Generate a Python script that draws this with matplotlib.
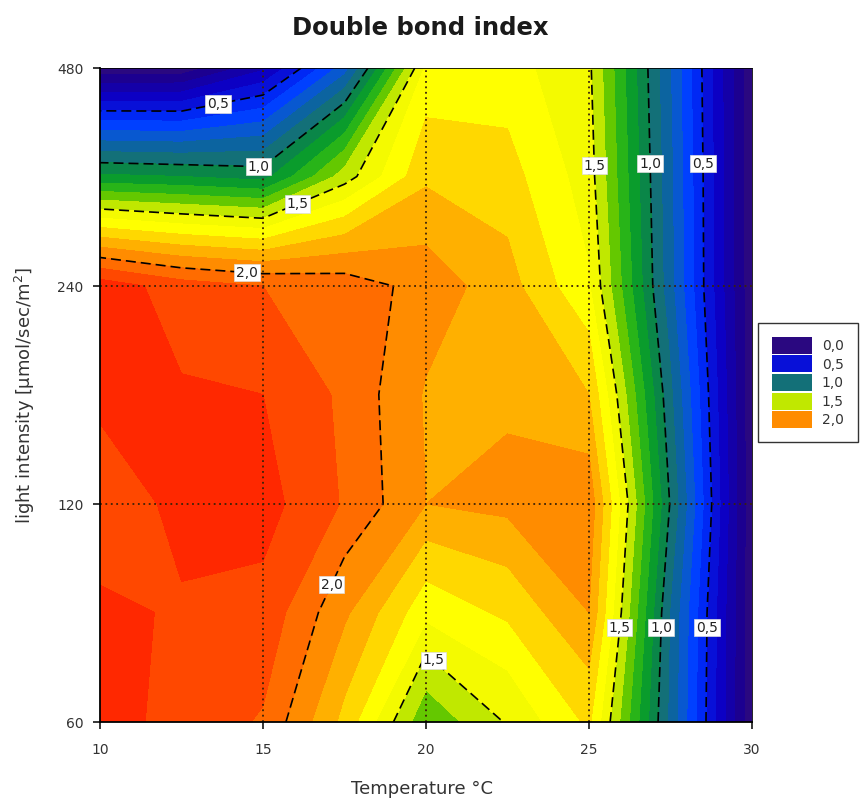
import matplotlib
matplotlib.use("Agg")
import matplotlib.pyplot as plt
import numpy as np
from matplotlib.colors import BoundaryNorm, ListedColormap
from matplotlib.patches import Patch
from matplotlib.ticker import NullLocator

# growth temperature (°C) and light intensity (µmol/sec/m2) of the grid
temperature = [10, 12.5, 15, 17.5, 20, 22.5, 25, 27.5, 30]
light = [60, 85, 120, 170, 240, 340, 480]

# double bond index at each light level, left to right along temperature
dbi_60 = [2.25, 2.16, 2.09, 1.77, 1.32, 1.51, 1.72, 0.87, 0.02]
dbi_85 = [2.22, 2.19, 2.17, 1.92, 1.63, 1.72, 1.90, 0.89, 0.02]
dbi_120 = [2.13, 2.23, 2.24, 2.09, 1.90, 1.93, 1.97, 0.99, 0.02]
dbi_170 = [2.23, 2.21, 2.20, 2.08, 1.89, 1.88, 1.80, 0.92, 0.02]
dbi_240 = [2.26, 2.15, 2.10, 2.06, 1.96, 1.84, 1.61, 0.83, 0.02]
dbi_340 = [1.12, 1.10, 1.06, 1.45, 1.78, 1.74, 1.55, 0.82, 0.02]
dbi_480 = [0.02, 0.03, 0.28, 0.75, 1.62, 1.64, 1.52, 0.80, 0.02]

line_levels = [0.5, 1.0, 1.5, 2.0]
legend_levels = [0.0, 0.5, 1.0, 1.5, 2.0]
x_ticks = [10, 15, 20, 25, 30]
y_ticks = [60, 120, 240, 480]

# where the inline contour labels sit (temperature, light)
label_spots = [
    (13.7, 410), (14.85, 344), (16.1, 308), (14.5, 248),
    (25.25, 352), (26.85, 354), (28.55, 354),
    (16.85, 94), (20.35, 74),
    (25.95, 81), (27.25, 81), (28.75, 81),
]

levels = np.round(np.arange(0, 2.35, 0.1), 2)
band_colors = [
    "#2a0880", "#1c0090", "#1400a8", "#0c00c4", "#0810d8", "#0028f4",
    "#0040ff", "#0858d0", "#0c64a0", "#137078", "#0a8648", "#0a9c2c",
    "#28b418", "#64c800", "#c0e800", "#f4fa00", "#ffff00", "#ffd800",
    "#ffb000", "#ff8c00", "#ff6c00", "#ff4800", "#ff2800",
]
cmap = ListedColormap(band_colors)
norm = BoundaryNorm(levels, cmap.N)


def comma(v):
    return f"{v:.1f}".replace(".", ",")


Z = np.array([dbi_60, dbi_85, dbi_120, dbi_170, dbi_240, dbi_340, dbi_480])

fig = plt.figure(figsize=(8.65, 8.07), dpi=100)
ax = fig.add_axes([0.1156, 0.1053, 0.7538, 0.8104])
ax.set_yscale("log", base=2)
ax.set_xlim(10, 30)
ax.set_ylim(60, 480)

ax.contourf(temperature, light, Z, levels=levels, cmap=cmap, norm=norm)
cs = ax.contour(temperature, light, Z, levels=line_levels, colors="black",
                linewidths=1.2, linestyles=[(0, (6, 3))])
labels = ax.clabel(cs, levels=line_levels, manual=label_spots, inline=False,
                   fmt=comma, fontsize=10, colors="#222222")
for t in labels:
    t.set_rotation(0)
    t.set_bbox(dict(facecolor="white", edgecolor="#dddddd", linewidth=0.5, pad=1.2))

# dotted reference lines at the inner ticks
for x in x_ticks[1:-1]:
    ax.axvline(x, color="#3a2208", lw=1.3, ls=(0, (1, 2)))
for y in y_ticks[1:-1]:
    ax.axhline(y, color="#3a2208", lw=1.3, ls=(0, (1, 2)))

ax.set_xticks(x_ticks)
ax.set_xticklabels([str(v) for v in x_ticks])
ax.set_yticks(y_ticks)
ax.set_yticklabels([str(v) for v in y_ticks])
ax.yaxis.set_minor_locator(NullLocator())
ax.tick_params(direction="out", length=5, width=1.1, labelsize=10, labelcolor="#333333")
ax.tick_params(axis="x", pad=10)
ax.tick_params(axis="y", pad=7)
for side in ["left", "bottom"]:
    ax.spines[side].set_linewidth(1.3)
for side in ["top", "right"]:
    ax.spines[side].set_linewidth(0.6)

ax.set_xlabel("Temperature °C", fontsize=13, color="#333333")
ax.xaxis.set_label_coords(0.494, -0.088)
ax.set_ylabel("light intensity [µmol/sec/m$^2$]", fontsize=13, color="#333333")
ax.yaxis.set_label_coords(-0.097, 0.5)

fig.text(0.486, 0.965, "Double bond index", ha="center", va="center",
         fontsize=17.5, fontweight="bold", color="#1a1a1a")

handles = [Patch(facecolor=band_colors[max(int(round(v * 10)) - 1, 0)], edgecolor="none")
           for v in legend_levels]
leg = fig.legend(handles, [comma(v) for v in legend_levels], loc="upper left",
                 bbox_to_anchor=(758 / 865, 1 - 323 / 807), fontsize=10,
                 frameon=True, fancybox=False, edgecolor="black",
                 handlelength=2.9, handleheight=1.5, labelspacing=0.12,
                 handletextpad=0.7, borderpad=1.0, borderaxespad=0)
leg.get_frame().set_linewidth(1.0)
for t in leg.get_texts():
    t.set_color("#333333")

fig.savefig("out.png", dpi=100)
